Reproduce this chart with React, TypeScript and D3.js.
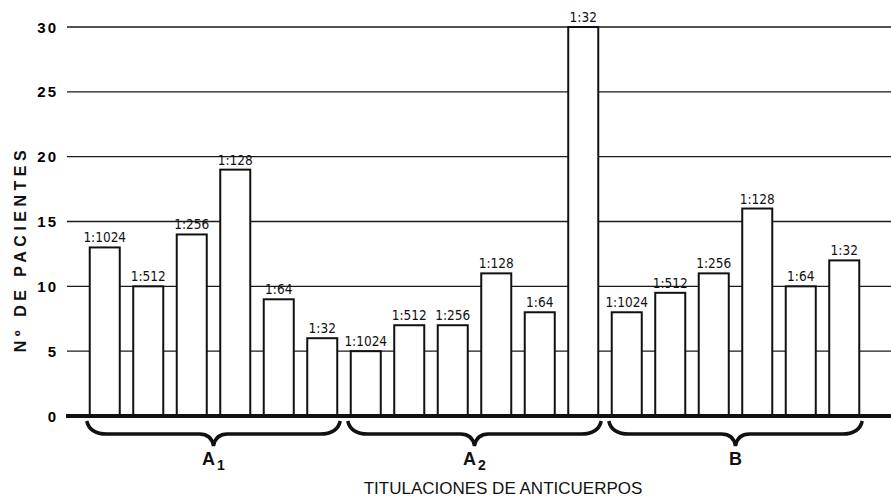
import React, { useRef, useEffect } from 'react';
import * as d3 from 'd3';

const groups = ['A1', 'A2', 'B'];
const groupLetters = ['A', 'A', 'B'];
const groupSubs = ['1', '2', ''];
const titres = ['1:1024', '1:512', '1:256', '1:128', '1:64', '1:32'];
const valuesA1 = [13, 10, 14, 19, 9, 6];
const valuesA2 = [5, 7, 7, 11, 8, 30];
const valuesB = [8, 9.5, 11, 16, 10, 12];
const yTicks = [0, 5, 10, 15, 20, 25, 30];

const FONT = '"Liberation Sans", Arial, sans-serif';
const NARROW = '"Liberation Sans Narrow", "DejaVu Sans Condensed", "Liberation Sans", sans-serif';

export default function App(): JSX.Element {
  const svgRef = useRef<SVGSVGElement>(null);

  useEffect(() => {
    if (svgRef.current == null) return;
    document.body.style.margin = '0';
    const svg = d3.select(svgRef.current);
    svg.selectAll('*').remove();

    const seriesValues = [valuesA1, valuesA2, valuesB];
    const bars = groups.flatMap((g, gi) =>
      titres.map((t, ti) => ({ id: `${g}-${t}`, group: g, gi, titre: t, value: seriesValues[gi][ti] }))
    );

    const x = d3
      .scaleBand()
      .domain(bars.map((d) => d.id))
      .range([83, 866])
      .paddingInner(0.31)
      .paddingOuter(0.155);
    const y = d3.scaleLinear().domain([0, 30]).range([416, 27]);

    // líneas de referencia
    svg
      .selectAll('line.grid')
      .data(yTicks.filter((t) => t > 0))
      .join('line')
      .attr('class', 'grid')
      .attr('x1', 67)
      .attr('x2', 891)
      .attr('y1', (d) => y(d))
      .attr('y2', (d) => y(d))
      .attr('stroke', '#1a1a1a')
      .attr('stroke-width', 1.3);

    // valores del eje
    svg
      .selectAll('text.tick')
      .data(yTicks)
      .join('text')
      .attr('class', 'tick')
      .attr('x', 58)
      .attr('y', (d) => y(d) + 5.5)
      .attr('text-anchor', 'end')
      .attr('font-family', FONT)
      .attr('font-weight', 'bold')
      .attr('font-size', 15)
      .attr('letter-spacing', 2)
      .text((d) => d);

    // barras
    svg
      .selectAll('rect.bar')
      .data(bars)
      .join('rect')
      .attr('class', 'bar')
      .attr('x', (d) => x(d.id) as number)
      .attr('y', (d) => y(d.value))
      .attr('width', x.bandwidth())
      .attr('height', (d) => y(0) - y(d.value))
      .attr('fill', '#fff')
      .attr('stroke', '#111')
      .attr('stroke-width', 2);

    // línea base
    svg
      .append('line')
      .attr('x1', 66)
      .attr('x2', 891)
      .attr('y1', y(0))
      .attr('y2', y(0))
      .attr('stroke', '#111')
      .attr('stroke-width', 4);

    // etiquetas de las barras
    svg
      .selectAll('text.lbl')
      .data(bars)
      .join('text')
      .attr('class', 'lbl')
      .attr('x', (d) => (x(d.id) as number) + x.bandwidth() / 2)
      .attr('y', (d) => y(d.value) - 5)
      .attr('text-anchor', 'middle')
      .attr('font-family', NARROW)
      .attr('font-size', 13.5)
      .attr('fill', '#111')
      .text((d) => d.titre);

    // llaves
    const y0 = y(0) + 5;
    const y1 = y(0) + 18;
    const y2 = y(0) + 30;
    groups.forEach((g, gi) => {
      const ids = bars.filter((d) => d.gi === gi).map((d) => d.id);
      const xa = (x(ids[0]) as number) - 3;
      const xb = (x(ids[ids.length - 1]) as number) + x.bandwidth() + 3;
      const xm = (xa + xb) / 2;
      const p = d3.path();
      p.moveTo(xa, y0);
      p.quadraticCurveTo(xa + 3, y1, xa + 20, y1);
      p.lineTo(xm - 14, y1);
      p.quadraticCurveTo(xm - 2, y1, xm, y2);
      p.quadraticCurveTo(xm + 2, y1, xm + 14, y1);
      p.lineTo(xb - 20, y1);
      p.quadraticCurveTo(xb - 3, y1, xb, y0);
      svg
        .append('path')
        .attr('d', p.toString())
        .attr('fill', 'none')
        .attr('stroke', '#111')
        .attr('stroke-width', 3.5);

      const t = svg
        .append('text')
        .attr('x', xm)
        .attr('y', 465)
        .attr('text-anchor', 'middle')
        .attr('font-family', FONT)
        .attr('font-size', 18)
        .attr('font-weight', 600)
        .attr('fill', '#111');
      t.append('tspan').text(groupLetters[gi]);
      if (groupSubs[gi]) {
        t.append('tspan').attr('dx', 2).attr('dy', 5).attr('font-size', 14).text(groupSubs[gi]);
      }
    });

    // títulos de los ejes
    svg
      .append('text')
      .attr('x', 503)
      .attr('y', 494)
      .attr('text-anchor', 'middle')
      .attr('font-family', FONT)
      .attr('font-size', 17)
      .attr('fill', '#111')
      .text('TITULACIONES DE ANTICUERPOS');

    svg
      .append('text')
      .attr('transform', 'translate(26, 249) rotate(-90)')
      .attr('text-anchor', 'middle')
      .attr('font-family', FONT)
      .attr('font-weight', 'bold')
      .attr('font-size', 16)
      .attr('letter-spacing', 4.5)
      .attr('fill', '#111')
      .text('Nº DE PACIENTES');
  }, []);

  return <svg ref={svgRef} width={891} height={499} style={{ display: 'block', background: '#fff' }} />;
}
